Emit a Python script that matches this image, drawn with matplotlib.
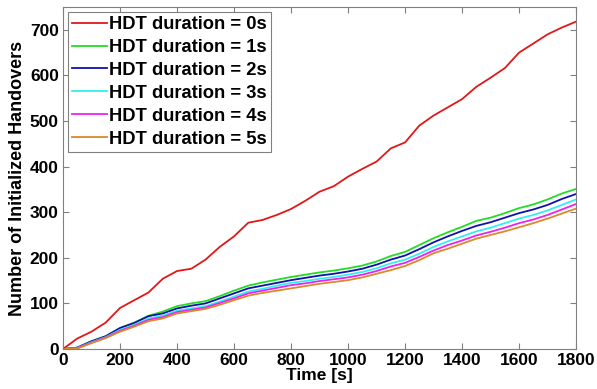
import matplotlib
matplotlib.use("Agg")
import matplotlib.pyplot as plt

plt.rcParams['font.family'] = ['Liberation Sans', 'DejaVu Sans']

time_s = [0, 50, 100, 150, 200, 250, 300, 350, 400, 450, 500, 550, 600, 650, 700, 750, 800, 850, 900,
          950, 1000, 1050, 1100, 1150, 1200, 1250, 1300, 1350, 1400, 1450, 1500, 1550, 1600, 1650, 1700, 1750, 1800]

hdt0 = [0, 23, 38, 58, 90, 107, 124, 154, 171, 176, 196, 224, 247, 277, 283, 294, 307, 325, 345,
        357, 378, 395, 411, 440, 453, 490, 512, 530, 548, 575, 595, 616, 650, 670, 690, 705, 718]
hdt1 = [0, 3, 17, 28, 46, 58, 73, 82, 94, 100, 105, 116, 128, 139, 146, 152, 158, 163, 168,
        172, 177, 183, 192, 204, 213, 228, 243, 256, 268, 281, 288, 298, 309, 317, 328, 341, 351]
hdt2 = [0, 3, 17, 28, 46, 57, 72, 78, 89, 95, 100, 111, 122, 133, 139, 145, 151, 156, 161,
        165, 170, 176, 185, 196, 205, 219, 234, 247, 259, 270, 278, 288, 298, 306, 316, 329, 340]
hdt3 = [0, 2, 15, 26, 42, 53, 67, 73, 84, 89, 94, 104, 115, 126, 132, 139, 145, 149, 154,
        158, 163, 169, 177, 188, 196, 209, 224, 236, 247, 258, 266, 276, 286, 294, 304, 316, 328]
hdt4 = [0, 2, 14, 25, 40, 51, 64, 70, 81, 86, 91, 101, 111, 122, 128, 134, 140, 144, 149,
        153, 157, 163, 171, 181, 189, 202, 216, 228, 238, 249, 257, 266, 276, 284, 294, 306, 318]
hdt5 = [0, 1, 13, 24, 38, 49, 61, 67, 78, 83, 88, 97, 107, 117, 123, 128, 133, 138, 143,
        147, 151, 157, 165, 173, 182, 195, 210, 220, 231, 242, 250, 258, 267, 276, 286, 297, 308]

labels = ["HDT duration = 0s", "HDT duration = 1s", "HDT duration = 2s",
          "HDT duration = 3s", "HDT duration = 4s", "HDT duration = 5s"]
series = [hdt0, hdt1, hdt2, hdt3, hdt4, hdt5]
colors = ["#e01818", "#22dd22", "#1010b0", "#30f0f0", "#f020f0", "#d98a2a"]

fig = plt.figure(figsize=(5.97, 3.89), dpi=100)
ax = fig.add_axes([0.1055, 0.1028, 0.8595, 0.8792])

for vals, lab, col in zip(series, labels, colors):
    ax.plot(time_s, vals, color=col, lw=1.3, label=lab)

ax.set_xlim(0, 1800)
ax.set_ylim(0, 750)
ax.set_xticks(range(0, 1801, 200))
ax.set_yticks(range(0, 701, 100))
ax.tick_params(direction="in", length=4, top=True, right=True, color="#808080",
               labelsize=12.5, pad=3)
for lbl in ax.get_xticklabels() + ax.get_yticklabels():
    lbl.set_fontweight("bold")
for sp in ax.spines.values():
    sp.set_color("#808080")

ax.set_xlabel("Time [s]", fontsize=12.5, fontweight="bold", labelpad=0)
ax.set_ylabel("Number of Initialized Handovers", fontsize=13, fontweight="bold", labelpad=3)

leg = ax.legend(loc="upper left", prop={"weight": "bold", "size": 13.2},
                handlelength=1.9, handletextpad=0.1, borderaxespad=0.25, labelspacing=0.32,
                fancybox=False, framealpha=1, borderpad=0.25)
leg.get_frame().set_edgecolor("#808080")
leg.get_frame().set_linewidth(0.8)

fig.savefig("out.png", dpi=100)
